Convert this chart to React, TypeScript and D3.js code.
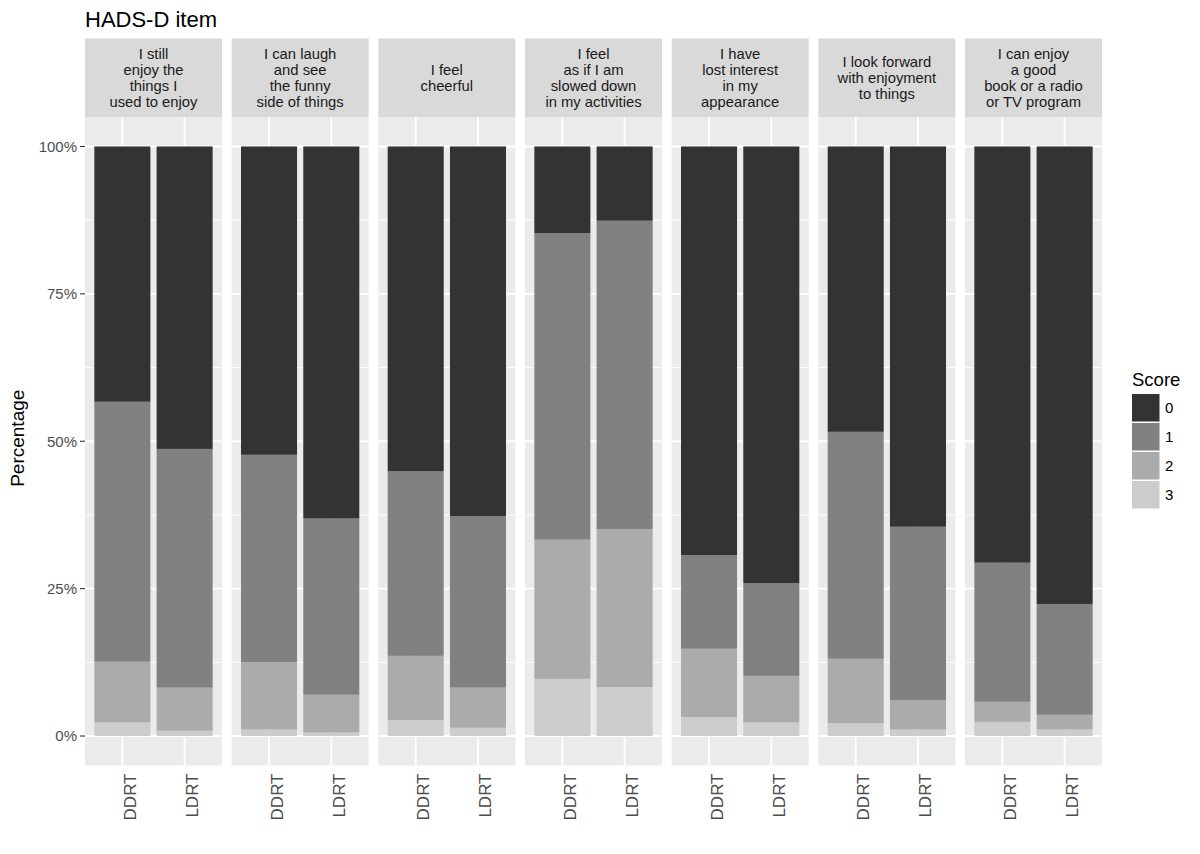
import { useMemo } from 'react';
import * as d3 from 'd3';

// facet labels (one line per entry)
const items = [
    ['I still', 'enjoy the', 'things I', 'used to enjoy'],
    ['I can laugh', 'and see', 'the funny', 'side of things'],
    ['I feel', 'cheerful'],
    ['I feel', 'as if I am', 'slowed down', 'in my activities'],
    ['I have', 'lost interest', 'in my', 'appearance'],
    ['I look forward', 'with enjoyment', 'to things'],
    ['I can enjoy', 'a good', 'book or a radio', 'or TV program'],
];
const groups = ['DDRT', 'LDRT'];
const scores = ['0', '1', '2', '3'];
const yTicks = [0, 25, 50, 75, 100];

// percentage per score, one value per item
const ddrt0 = [43.3, 52.3, 55.1, 14.7, 69.3, 48.4, 70.6];
const ddrt1 = [44.1, 35.2, 31.3, 52.0, 15.9, 38.5, 23.6];
const ddrt2 = [10.3, 11.4, 10.9, 23.6, 11.6, 10.9, 3.4];
const ddrt3 = [2.3, 1.1, 2.7, 9.7, 3.2, 2.2, 2.4];
const ldrt0 = [51.3, 63.1, 62.7, 12.6, 74.1, 64.5, 77.6];
const ldrt1 = [40.5, 29.9, 29.1, 52.3, 15.7, 29.4, 18.8];
const ldrt2 = [7.3, 6.4, 6.8, 26.8, 7.9, 5.0, 2.5];
const ldrt3 = [0.9, 0.6, 1.4, 8.3, 2.3, 1.1, 1.1];

const fillColors = ['#333333', '#818181', '#ABABAB', '#CCCCCC'];
const font = 'Liberation Sans, Arial, sans-serif';

const W = 1200;
const H = 854;
const panelLeft = 85;
const panelRight = 1102;
const stripTop = 38.5;
const panelTop = 117;
const panelBottom = 765.5;

export default function App() {
    const rows = useMemo(() => {
        const out: { item: number; group: string; score: number; y0: number; y1: number }[] = [];
        items.forEach((_, i) => {
            const byGroup: Record<string, number[]> = {
                DDRT: [ddrt0[i], ddrt1[i], ddrt2[i], ddrt3[i]],
                LDRT: [ldrt0[i], ldrt1[i], ldrt2[i], ldrt3[i]],
            };
            groups.forEach((g) => {
                const v = byGroup[g];
                const total = d3.sum(v);
                // stack: score 3 at the bottom, 0 on top
                let acc = 0;
                for (let s = 3; s >= 0; s--) {
                    const h = (v[s] / total) * 100;
                    out.push({ item: i, group: g, score: s, y0: acc, y1: acc + h });
                    acc += h;
                }
            });
        });
        return out;
    }, []);

    const facetScale = d3
        .scaleBand<number>()
        .domain(items.map((_, i) => i))
        .range([panelLeft, panelRight])
        .paddingInner(0.066)
        .paddingOuter(0);
    const pw = facetScale.bandwidth();

    const yScale = d3.scaleLinear().domain([-5, 105]).range([panelBottom, panelTop]);
    const xInner = d3.scaleLinear().domain([0.4, 2.6]).range([0, pw]);
    const barW = xInner(1.45) - xInner(0.55);
    const minor = [12.5, 37.5, 62.5, 87.5];

    return (
        <svg width={W} height={H} style={{ position: 'absolute', left: 0, top: 0, background: '#fff' }} fontFamily={font}>
            <text x={panelLeft} y={27} fontSize={22} fill="#000">HADS-D item</text>

            {items.map((lines, i) => {
                const x0 = facetScale(i) || 0;
                const cy = (stripTop + panelTop) / 2;
                const lh = 16;
                return (
                    <g key={i}>
                        <rect x={x0} y={stripTop} width={pw} height={panelTop - stripTop} fill="#D9D9D9" />
                        {lines.map((ln, k) => (
                            <text
                                key={k}
                                x={x0 + pw / 2}
                                y={cy + (k - (lines.length - 1) / 2) * lh}
                                dy="0.36em"
                                textAnchor="middle"
                                fontSize={14.8}
                                fill="#1A1A1A"
                            >{ln}</text>
                        ))}
                        <rect x={x0} y={panelTop} width={pw} height={panelBottom - panelTop} fill="#EBEBEB" />
                        {minor.map((t) => (
                            <line key={'m' + t} x1={x0} x2={x0 + pw} y1={yScale(t)} y2={yScale(t)} stroke="#fff" strokeWidth={0.9} />
                        ))}
                        {yTicks.map((t) => (
                            <line key={'M' + t} x1={x0} x2={x0 + pw} y1={yScale(t)} y2={yScale(t)} stroke="#fff" strokeWidth={1.8} />
                        ))}
                        {groups.map((g, gi) => (
                            <line key={g} x1={x0 + xInner(gi + 1)} x2={x0 + xInner(gi + 1)} y1={panelTop} y2={panelBottom} stroke="#fff" strokeWidth={1.8} />
                        ))}
                        {rows.filter((r) => r.item === i).map((r) => {
                            const gi = groups.indexOf(r.group);
                            const cx = x0 + xInner(gi + 1);
                            return (
                                <rect
                                    key={r.group + r.score}
                                    x={cx - barW / 2}
                                    width={barW}
                                    y={yScale(r.y1)}
                                    height={yScale(r.y0) - yScale(r.y1)}
                                    fill={fillColors[r.score]}
                                />
                            );
                        })}
                        {groups.map((g, gi) => {
                            const cx = x0 + xInner(gi + 1);
                            return (
                                <text
                                    key={'lab' + g}
                                    transform={`translate(${cx + 13.5},${panelBottom + 8}) rotate(-90)`}
                                    textAnchor="end"
                                    fontSize={17}
                                    fill="#4D4D4D"
                                >{g}</text>
                            );
                        })}
                    </g>
                );
            })}

            {yTicks.map((t) => (
                <g key={t}>
                    <line x1={panelLeft - 5} x2={panelLeft} y1={yScale(t)} y2={yScale(t)} stroke="#333" strokeWidth={1.1} />
                    <text x={panelLeft - 8} y={yScale(t)} dy="0.36em" textAnchor="end" fontSize={15} fill="#4D4D4D">{t}%</text>
                </g>
            ))}

            <text transform={`translate(24,${yScale(50) - 3}) rotate(-90)`} textAnchor="middle" fontSize={19} fill="#000">Percentage</text>

            <g>
                <text x={1132} y={386} fontSize={18.5} fill="#000">Score</text>
                {scores.map((s, i) => (
                    <g key={s}>
                        <rect x={1132} y={394 + i * 29} width={27.5} height={27.5} fill={fillColors[i]} />
                        <text x={1165} y={394 + i * 29 + 13.75} dy="0.36em" fontSize={15} fill="#000">{s}</text>
                    </g>
                ))}
            </g>
        </svg>
    );
}
